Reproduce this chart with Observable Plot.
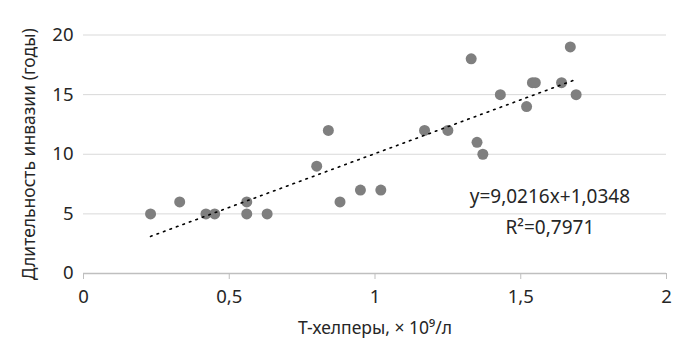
<!DOCTYPE html>
<html>
<head>
<meta charset="utf-8">
<script src="https://cdn.jsdelivr.net/npm/d3@7"></script>
<script src="https://cdn.jsdelivr.net/npm/@observablehq/plot@0.6"></script>
<style>
  html, body { margin: 0; padding: 0; background: #fff; }
  #chart svg { display: block; }
</style>
</head>
<body>
<div id="chart"></div>
<script>
const tHelpers = [0.23, 0.33, 0.42, 0.45, 0.56, 0.56, 0.63, 0.80, 0.84, 0.88, 0.95, 1.02, 1.17, 1.25, 1.33, 1.35, 1.37, 1.43, 1.52, 1.54, 1.55, 1.64, 1.67, 1.69];
const duration = [5, 6, 5, 5, 6, 5, 5, 9, 12, 6, 7, 7, 12, 12, 18, 11, 10, 15, 14, 16, 16, 16, 19, 15];
const xTicks = [0, 0.5, 1, 1.5, 2];
const yTicks = [0, 5, 10, 15, 20];
const slope = 9.0216;
const intercept = 1.0348;
const eqLabels = ["y=9,0216x+1,0348", "R²=0,7971"];
const eqX = [1.6, 1.6];
const eqY = [6.4, 3.8];
const xTitle = "Т-хелперы, × 10⁹/л";
const yTitle = "Длительность инвазии (годы)";

const points = tHelpers.map((x, i) => ({x, y: duration[i]}));
const xMin = d3.min(tHelpers), xMax = d3.max(tHelpers);
const trend = [xMin, xMax].map(x => ({x, y: slope * x + intercept}));
const eq = eqLabels.map((t, i) => ({t, x: eqX[i], y: eqY[i]}));
const fmt = d => String(d).replace(".", ",");

const chart = Plot.plot({
  width: 690,
  height: 358,
  marginLeft: 83,
  marginRight: 24,
  marginTop: 34.5,
  marginBottom: 85,
  style: {fontFamily: "'Noto Sans', sans-serif", fontSize: "18px", color: "#262626", background: "#fff"},
  x: {domain: [0, 2]},
  y: {domain: [0, 20]},
  marks: [
    Plot.ruleY(yTicks.filter(d => d > 0), {stroke: "#d9d9d9", strokeWidth: 1}),
    Plot.ruleY([0], {stroke: "#bfbfbf", strokeWidth: 1.3}),
    Plot.axisX({ticks: xTicks, tickFormat: fmt, tickSize: 6, tickPadding: 10, stroke: "#bfbfbf", fontSize: 18.5, label: null}),
    Plot.axisY({ticks: yTicks, tickFormat: fmt, tickSize: 0, tickPadding: 10, fontSize: 18.5, label: null}),
    Plot.dot(points, {x: "x", y: "y", r: 5.5, fill: "#7f7f7f", stroke: "none"}),
    Plot.line(trend, {x: "x", y: "y", stroke: "#000", strokeWidth: 1.6, strokeDasharray: "1.6,5.3"}),
    Plot.text(eq, {x: "x", y: "y", text: "t", fontSize: 19, fill: "#262626"}),
    Plot.text([xTitle], {frameAnchor: "bottom", dy: 60, fontSize: 17.5, fill: "#262626"}),
    Plot.text([yTitle], {frameAnchor: "left", textAnchor: "middle", dx: -54, rotate: -90, fontSize: 17.5, fill: "#262626"})
  ]
});
document.getElementById("chart").appendChild(chart);
</script>
</body>
</html>
